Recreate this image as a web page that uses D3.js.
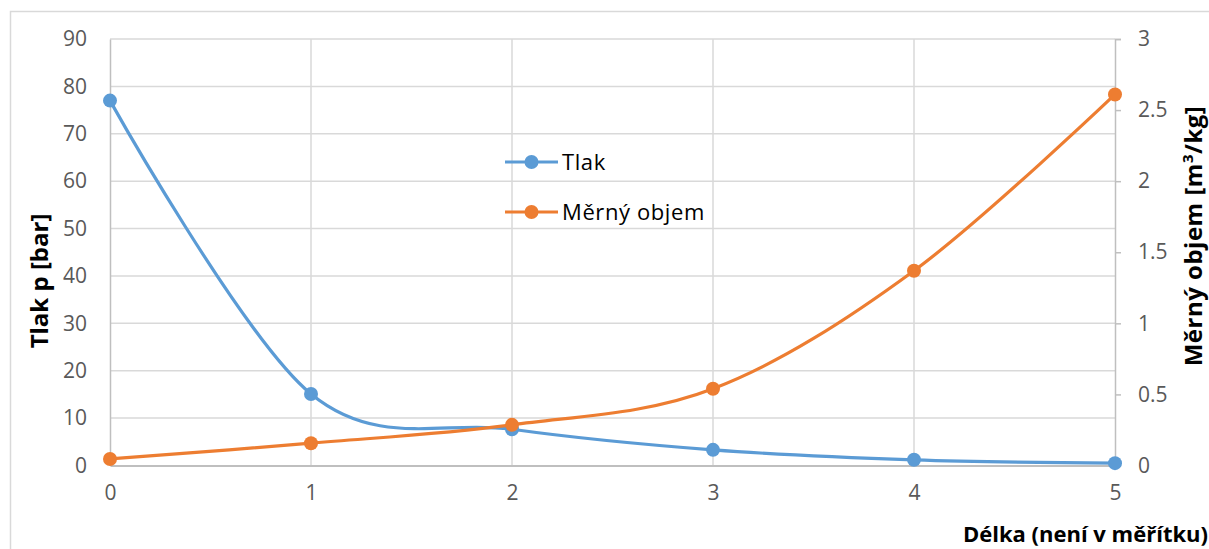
<!DOCTYPE html>
<html>
<head>
<meta charset="utf-8">
<script src="https://cdn.jsdelivr.net/npm/d3@7"></script>
<style>
  html, body { margin: 0; padding: 0; background: #fff; }
  svg { display: block; font-family: "Open Sans", "Liberation Sans", sans-serif; }
</style>
</head>
<body>
<svg id="chart" width="1209" height="549"></svg>
<script>
// Position along the pipe (not to scale)
const lengths = [0, 1, 2, 3, 4, 5];
// Pressure p [bar]
const pressure = [77, 15.1, 7.65, 3.3, 1.2, 0.5];
// Specific volume [m3/kg]
const specVolume = [0.046, 0.157, 0.286, 0.54, 1.37, 2.61];

const leftTicks = [0, 10, 20, 30, 40, 50, 60, 70, 80, 90];
const rightTicks = [0, 0.5, 1, 1.5, 2, 2.5, 3];
const xTicks = [0, 1, 2, 3, 4, 5];

const seriesNames = ["Tlak", "Měrný objem"];
const colors = ["#5B9BD5", "#ED7D31"];

const svg = d3.select("#chart");
const m = { left: 110, right: 1115, top: 39, bottom: 465.5 };

const x = d3.scaleLinear().domain([0, 5]).range([m.left, m.right]);
const yL = d3.scaleLinear().domain([0, 90]).range([m.bottom, m.top]);
const yR = d3.scaleLinear().domain([0, 3]).range([m.bottom, m.top]);

// outer chart frame
svg.append("rect")
  .attr("x", 10.5).attr("y", 11.5)
  .attr("width", 1220).attr("height", 560)
  .attr("fill", "none").attr("stroke", "#D9D9D9").attr("stroke-width", 1.5);

// gridlines
const grid = svg.append("g");
grid.selectAll("line.h").data(leftTicks.filter(d => d > 0)).join("line")
  .attr("x1", m.left).attr("x2", m.right)
  .attr("y1", d => yL(d)).attr("y2", d => yL(d))
  .attr("stroke", "#D9D9D9").attr("stroke-width", 1.5);
grid.selectAll("line.v").data(xTicks.slice(1, 5)).join("line")
  .attr("x1", d => x(d)).attr("x2", d => x(d))
  .attr("y1", m.top).attr("y2", m.bottom)
  .attr("stroke", "#D9D9D9").attr("stroke-width", 1.5);

// axes
const tickFont = g => g.selectAll("text")
  .attr("font-size", 21).attr("fill", "#595959")
  .attr("font-family", "'Open Sans', 'Liberation Sans', sans-serif");

const axL = svg.append("g").attr("transform", `translate(${m.left},0)`)
  .call(d3.axisLeft(yL).tickValues(leftTicks).tickSize(0).tickPadding(23).tickFormat(d3.format("d")));
axL.select(".domain").attr("stroke", "#BFBFBF").attr("stroke-width", 1.5);
tickFont(axL);

const axR = svg.append("g").attr("transform", `translate(${m.right},0)`)
  .call(d3.axisRight(yR).tickValues(rightTicks).tickSize(6).tickPadding(17).tickFormat(d => String(d)));
axR.select(".domain").attr("stroke", "#BFBFBF").attr("stroke-width", 1.5);
axR.selectAll(".tick line").attr("stroke", "#BFBFBF").attr("stroke-width", 1.5);
tickFont(axR);

const axB = svg.append("g").attr("transform", `translate(0,${m.bottom})`)
  .call(d3.axisBottom(x).tickValues(xTicks).tickSize(0).tickPadding(20).tickFormat(d3.format("d")));
axB.select(".domain").attr("stroke", "#BFBFBF").attr("stroke-width", 2);
tickFont(axB);

// series
const seriesData = [pressure, specVolume];
const yScales = [yL, yR];
seriesData.forEach((vals, i) => {
  const pts = lengths.map((l, j) => [l, vals[j]]);
  const line = d3.line()
    .x(d => x(d[0])).y(d => yScales[i](d[1]))
    .curve(d3.curveCardinal.tension(0));
  svg.append("path").datum(pts)
    .attr("d", line).attr("fill", "none")
    .attr("stroke", colors[i]).attr("stroke-width", 3.2)
    .attr("stroke-linejoin", "round");
  svg.append("g").selectAll("circle").data(pts).join("circle")
    .attr("cx", d => x(d[0])).attr("cy", d => yScales[i](d[1]))
    .attr("r", 7).attr("fill", colors[i]);
});

// legend
const legend = svg.append("g");
seriesNames.forEach((name, i) => {
  const ly = 162 + i * 50;
  legend.append("line").attr("x1", 505).attr("x2", 558)
    .attr("y1", ly).attr("y2", ly)
    .attr("stroke", colors[i]).attr("stroke-width", 3.2);
  legend.append("circle").attr("cx", 531.5).attr("cy", ly).attr("r", 7).attr("fill", colors[i]);
  legend.append("text").attr("x", 562).attr("y", ly + 8)
    .attr("font-size", 22).attr("letter-spacing", 0.6).attr("fill", "#000").text(name);
});

// axis titles
svg.append("text")
  .attr("transform", "translate(48,281) rotate(-90)")
  .attr("text-anchor", "middle").attr("font-size", 24).attr("font-weight", "bold")
  .attr("fill", "#000").text("Tlak p [bar]");

const rt = svg.append("text")
  .attr("transform", "translate(1202,236) rotate(-90)")
  .attr("text-anchor", "middle").attr("font-size", 24).attr("font-weight", "bold")
  .attr("letter-spacing", 0.5)
  .attr("fill", "#000");
rt.append("tspan").text("Měrný objem [m");
rt.append("tspan").attr("font-size", 15).attr("dy", -9).text("3");
rt.append("tspan").attr("dy", 9).text("/kg]");

svg.append("text")
  .attr("x", 1208).attr("y", 542)
  .attr("text-anchor", "end").attr("font-size", 22).attr("font-weight", "bold")
  .attr("fill", "#000").text("Délka (není v měřítku)");
</script>
</body>
</html>
